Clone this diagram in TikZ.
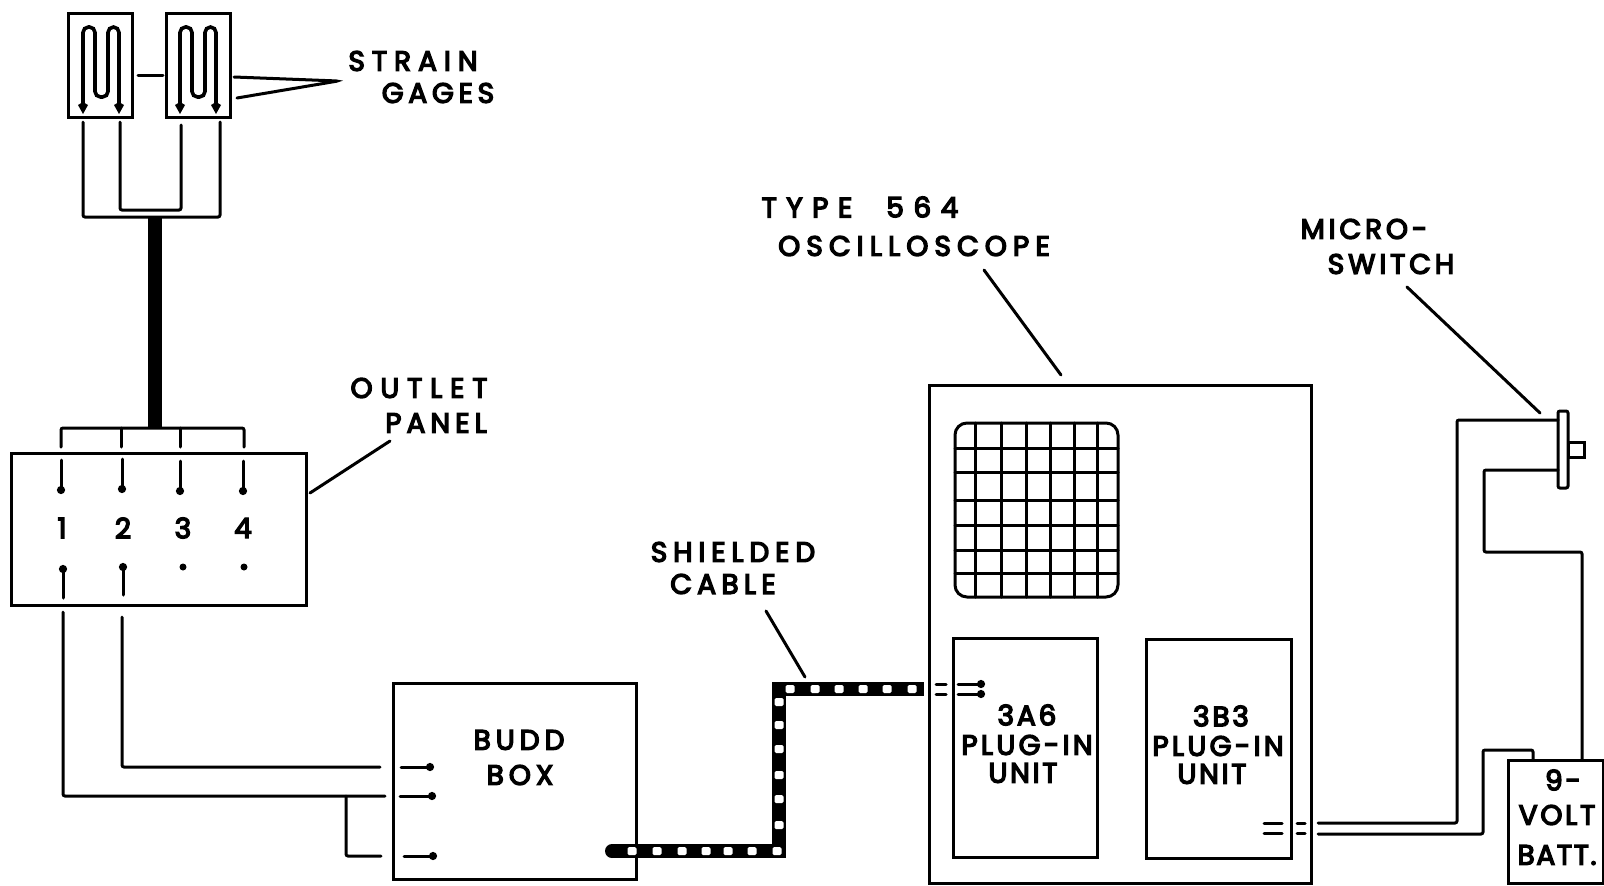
\documentclass[tikz,border=0pt]{standalone}
\usepackage{fontspec}
\setmainfont{Poppins}
\usetikzlibrary{arrows.meta,positioning,calc}
\tikzset{
  wire/.style={line width=3pt,line cap=round,rounded corners=2pt},
  term/.style={wire,-{Circle[length=8pt,width=8pt]}},
  boxx/.style={draw,line width=3pt,inner sep=0pt,outer sep=0pt,minimum width=#1},
  lab/.style={inner sep=0pt,font=\fontsize{28}{30}\selectfont\addfontfeature{FakeBold=5,LetterSpace=#1}},
  lab/.default=18,
  cablefat/.style={line width=14pt,line cap=butt,line join=miter},
  holesq/.style={white,rounded corners=1.5pt},
  gagekite/.style={line width=3.6pt,{Kite[length=12pt,width=10pt,inset=3pt]}-{Kite[length=12pt,width=10pt,inset=3pt]}}
}
\begin{document}
\begin{tikzpicture}[x=1pt,y=-1pt]
  \useasboundingbox (0,0) rectangle (1604,886);
  % --- strain gages ---
  \node[boxx=64pt,minimum height=104pt] (gageA) at (100,65) {};
  \node[boxx=64pt,minimum height=104pt] (gageB) at (198,65) {};
  \foreach \gx in {0,97} {
    \begin{scope}[xshift=\gx pt]
      \draw[gagekite,rounded corners=5.5pt] (83,114) -- (83,27) -- (95,27) -- (95,97) -- (108,97) -- (108,27) -- (119,27) -- (119,114);
    \end{scope}
  }
  \coordinate (linkA) at (138,75);
  \coordinate (linkB) at (163,75);
  \draw[wire] (linkA) -- (linkB);
  \coordinate (leadA) at (83,122);
  \coordinate (leadB) at (120,122);
  \coordinate (leadC) at (181,125);
  \coordinate (leadD) at (220,122);
  \coordinate (outer) at (155,217);
  \coordinate (inner) at (155,210);
  \draw[wire] (leadA) -- (leadA |- outer) -- (leadD |- outer) -- (leadD);
  \draw[wire] (leadB) -- (leadB |- inner) -- (leadC |- inner) -- (leadC);
  \node[lab=25] (strain) at (413,61) {STRAIN};
  \node[lab=17] (gages) at (438,93) {GAGES};
  \coordinate (tipS) at (338,81);
  \coordinate (legA) at (234,77);
  \coordinate (legB) at (237,98);
  \draw[wire] (legA) -- (tipS) -- (legB);
  % --- outlet panel ---
  \coordinate (busc) at (155,428);
  \draw[line width=14pt] (outer) -- (busc);
  \node[boxx=295pt,minimum height=152pt] (panel) at (158.5,529) {};
  \coordinate (stubA) at (61,447);
  \coordinate (stubB) at (121,447);
  \coordinate (stubC) at (180,447);
  \coordinate (stubD) at (244,447);
  \draw[wire] (stubA) -- (stubA |- busc) -- (stubD |- busc) -- (stubD);
  \draw[wire] (stubB) -- (stubB |- busc);
  \draw[wire] (stubC) -- (stubC |- busc);
  \foreach \px/\py/\pn in {61/460/A,122/459/B,180/461/C,243/461/D} {
    \coordinate (in\pn) at (\px,\py);
    \coordinate (pin\pn) at (\px,\py+34);
    \draw[term] (in\pn) -- (pin\pn);
  }
  \node[lab] (numA) at (62,528) {1};
  \node[lab] (numB) at (123,528) {2};
  \node[lab] (numC) at (183,528) {3};
  \node[lab] (numD) at (243,528) {4};
  \fill (183,567) circle (3.5pt);
  \fill (244,567) circle (3.5pt);
  \coordinate (botA) at (63,598);
  \coordinate (botB) at (123,595);
  \draw[term] (botA) -- (63,565);
  \draw[term] (botB) -- (123,563);
  \node[lab=28] (outlet) at (419,388) {OUTLET};
  \node[lab=18] (panellab) at (436,423) {PANEL};
  \coordinate (panelleadA) at (310,493);
  \coordinate (panelleadB) at (390,441);
  \draw[wire] (panelleadA) -- (panelleadB);
  % --- budd box ---
  \node[boxx=243pt,minimum height=196pt] (budd) at (514.5,781) {};
  \node[lab=18] (buddlab) at (519,740) {BUDD};
  \node[lab=18] (boxlab) at (520,775) {BOX};
  \coordinate (outA) at (63,612);
  \coordinate (outB) at (122,617);
  \coordinate (inB) at (380,767);
  \coordinate (inA) at (385,796);
  \coordinate (inC) at (381,856);
  \coordinate (jct) at (346,796);
  \draw[wire] (outB) |- (inB);
  \draw[wire] (outA) |- (inA);
  \draw[wire] (jct) |- (inC);
  \foreach \tx/\ty/\te in {401/767/434,400/796/436,404/856/437} {
    \draw[term] (\tx,\ty) -- (\te,\ty);
  }
  % --- shielded cable ---
  \coordinate (cabA) at (612,851);
  \coordinate (cabB) at (779,851);
  \coordinate (cabC) at (779,689);
  \coordinate (cabD) at (924,689);
  \fill (cabA) circle (7pt);
  \draw[cablefat] (cabA) -- (786,851);
  \draw[cablefat] (cabB) -- (cabC);
  \draw[cablefat] (772,689) -- (cabD);
  \foreach \sx/\sy in {632/851,657/851,682/851,706/851,728/851,752/851,777/851,
    779/825,779/799,779/775,779/749,779/725,779/702,
    790/689,815/689,839/689,863/689,887/689,912/689} {
    \fill[holesq] (\sx-4.5,\sy-4) rectangle (\sx+4.5,\sy+4);
  }
  \node[lab=21] (shielded) at (733,552) {SHIELDED};
  \node[lab=19] (cable) at (723,584) {CABLE};
  \coordinate (cabtop) at (766,611);
  \coordinate (cabbot) at (805,677);
  \draw[wire] (cabtop) -- (cabbot);
  % --- oscilloscope ---
  \node[boxx=382pt,minimum height=498pt] (scope) at (1120,634) {};
  \node[boxx=163pt,minimum height=174pt,rounded corners=12pt] (screen) at (1036.5,510) {};
  \foreach \gx in {975,1001,1026,1050,1074,1097} {
    \draw[wire] (\gx,423) -- (\gx,597);
  }
  \foreach \gy in {448,472,500,525,550,573} {
    \draw[wire] (955,\gy) -- (1118,\gy);
  }
  \node[boxx=144pt,minimum height=219pt] (unitA) at (1025,747.5) {};
  \node[boxx=145pt,minimum height=219pt] (unitB) at (1218.5,748.5) {};
  \node[lab=10] (unitAa) at (1027,715) {3A6};
  \node[lab=12] (unitAb) at (1027,745) {PLUG-IN};
  \node[lab=10] (unitAc) at (1023,773) {UNIT};
  \node[lab=10] (unitBa) at (1221,716) {3B3};
  \node[lab=12] (unitBb) at (1218,746) {PLUG-IN};
  \node[lab=10] (unitBc) at (1212,774) {UNIT};
  \node[lab=34] (typelab) at (860,207) {TYPE\ \ 564};
  \node[lab=22] (scopelab) at (914,246) {OSCILLOSCOPE};
  \coordinate (scopeA) at (984,270);
  \coordinate (scopeB) at (1061,375);
  \draw[wire] (scopeA) -- (scopeB);
  % plug-in inputs and outputs
  \foreach \dy in {684,694} {
    \draw[wire] (936,\dy) -- (946,\dy);
    \draw[term] (958,\dy) -- (985,\dy);
    \draw[wire] (1297,\dy+139) -- (1305,\dy+139);
    \draw[wire] (1264,\dy+139) -- (1282,\dy+139);
  }
  % --- micro-switch and battery ---
  \node[boxx=10pt,minimum height=77pt,rounded corners=2pt] (switch) at (1563,449.5) {};
  \node[boxx=16pt,minimum height=15pt,anchor=west] (plunger) at (switch.east) {};
  \node[boxx=95pt,minimum height=123pt] (batt) at (1555.5,821.5) {};
  \node[lab=10] (battA) at (1563,780) {9-};
  \node[lab=10] (battB) at (1557,815) {VOLT};
  \node[lab=6] (battC) at (1557,855) {BATT.};
  \node[lab=14] (microA) at (1364,229) {MICRO-};
  \node[lab=14] (microB) at (1391,264) {SWITCH};
  \coordinate (microlabA) at (1407,287);
  \coordinate (microlabB) at (1540,413);
  \draw[wire] (microlabA) -- (microlabB);
  \coordinate (outU) at (1318,823);
  \coordinate (outL) at (1318,834);
  \coordinate (upA) at (1457,420);
  \coordinate (upB) at (1483,750);
  \coordinate (battin) at (1533,760);
  \coordinate (swlow) at (1484,470);
  \coordinate (swbat) at (1484,552);
  \coordinate (battup) at (1582,552);
  \coordinate (battpos) at (1582,760);
  \draw[wire] (outU) -| (upA) -- (1558,420);
  \draw[wire] (outL) -| (upB) -| (battin);
  \draw[wire] (1558,470) -- (swlow) -- (swbat) -- (battup) -- (battpos);
\end{tikzpicture}
\end{document}
